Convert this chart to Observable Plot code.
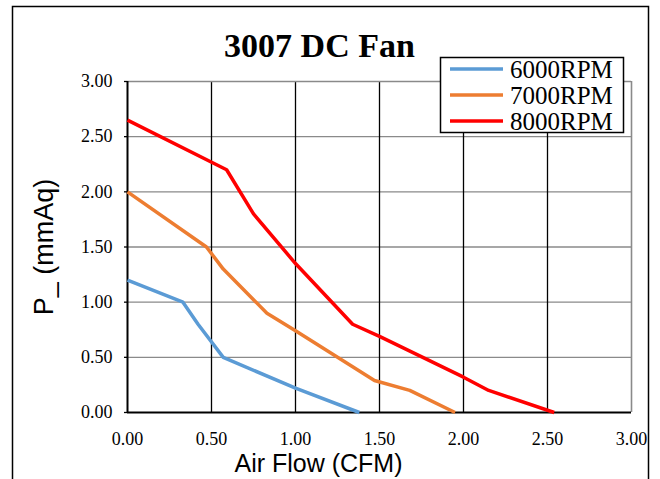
<!DOCTYPE html>
<html><head><meta charset="utf-8">
<script src="https://cdn.jsdelivr.net/npm/d3@7"></script>
<script src="https://cdn.jsdelivr.net/npm/@observablehq/plot@0.6"></script>
<style>body{margin:0;background:#fff} #chart{width:660px;height:479px;overflow:hidden}</style>
</head><body><div id="chart"></div>
<script>
const series = ["6000RPM", "7000RPM", "8000RPM"];
const colors = ["#5B9BD5", "#ED7D31", "#FF0000"];
const flow6000 = [0, 0.33, 0.42, 0.57, 1.0, 1.38];
const pres6000 = [1.2, 1.0, 0.8, 0.5, 0.22, 0];
const flow7000 = [0, 0.47, 0.57, 0.83, 1.0, 1.47, 1.68, 1.95];
const pres7000 = [2.0, 1.5, 1.3, 0.9, 0.74, 0.29, 0.2, 0];
const flow8000 = [0, 0.59, 0.75, 1.0, 1.34, 1.5, 2.0, 2.15, 2.54];
const pres8000 = [2.65, 2.2, 1.8, 1.35, 0.8, 0.69, 0.32, 0.2, 0];
const xTicks = [0, 0.5, 1.0, 1.5, 2.0, 2.5, 3.0];
const yTicks = [0, 0.5, 1.0, 1.5, 2.0, 2.5, 3.0];
const title = "3007 DC Fan";
const xLabel = "Air Flow (CFM)";
const yLabel = "P_ (mmAq)";

const flows = [flow6000, flow7000, flow8000];
const press = [pres6000, pres7000, pres8000];
const rows = series.flatMap((s, i) => flows[i].map((f, j) => ({series: s, flow: f, p: press[i][j]})));
const fmt = d => d.toFixed(2);
const serif = "'Liberation Serif','Times New Roman',serif";
const sans = "'Liberation Sans',Arial,sans-serif";

const plot = Plot.plot({
  width: 660, height: 479,
  marginLeft: 127, marginRight: 29, marginTop: 81, marginBottom: 67,
  style: {fontFamily: serif, fontSize: "18px", background: "#fff", color: "#000"},
  x: {domain: [0, 3], label: null},
  y: {domain: [0, 3], label: null},
  color: {domain: series, range: colors},
  marks: [
    Plot.gridY(yTicks.slice(1, -1), {stroke: "#8a8a8a", strokeOpacity: 1, strokeWidth: 1.3}),
    Plot.gridX(xTicks.slice(1, -1), {stroke: "#000", strokeOpacity: 1, strokeWidth: 1.3}),
    Plot.ruleY([3], {stroke: "#8a8a8a", strokeWidth: 1.6}),
    Plot.ruleX([3], {stroke: "#8a8a8a", strokeWidth: 1.6}),
    Plot.ruleX([0], {stroke: "#000", strokeWidth: 2}),
    Plot.ruleY([0], {stroke: "#000", strokeWidth: 2}),
    Plot.axisX({ticks: xTicks, tickFormat: fmt, tickSize: 0, tickPadding: 20, fontSize: 18}),
    Plot.axisY({ticks: yTicks, tickFormat: fmt, tickSize: 3, tickPadding: 12, fontSize: 18, stroke: "#000", strokeWidth: 1.3}),
    Plot.line(rows, {x: "flow", y: "p", z: "series", stroke: "series", strokeWidth: 3.5, strokeLinejoin: "miter", strokeLinecap: "butt"}),
    Plot.text([title], {text: d => d, frameAnchor: "top", dx: -60, dy: -49, fontSize: 34, fontWeight: "bold", fontFamily: serif}),
    Plot.text([xLabel], {text: d => d, frameAnchor: "bottom", dx: -61, dy: 59, fontSize: 25, fontFamily: sans}),
    Plot.text([yLabel], {text: d => d, frameAnchor: "left", textAnchor: "middle", dx: -83, rotate: -90, fontSize: 27, fontFamily: sans})
  ]
});
document.getElementById("chart").append(plot);

// outer frame and legend
const svg = d3.select(plot);
svg.append("rect").attr("x", 12.5).attr("y", 6.5).attr("width", 636).attr("height", 490)
  .attr("fill", "none").attr("stroke", "#000").attr("stroke-width", 1.5);
const lg = svg.append("g").attr("text-anchor", "start");
lg.append("rect").attr("x", 440.5).attr("y", 57.5).attr("width", 183).attr("height", 75)
  .attr("fill", "#fff").attr("stroke", "#000").attr("stroke-width", 1.5);
series.forEach((s, i) => {
  const y = 69 + i * 26;
  lg.append("line").attr("x1", 450).attr("x2", 503).attr("y1", y).attr("y2", y)
    .attr("stroke", colors[i]).attr("stroke-width", 3.5);
  lg.append("text").attr("x", 510).attr("y", y + 8.5).attr("font-family", serif)
    .attr("font-size", 25).attr("fill", "#000").attr("text-anchor", "start").text(s);
});
</script></body></html>
